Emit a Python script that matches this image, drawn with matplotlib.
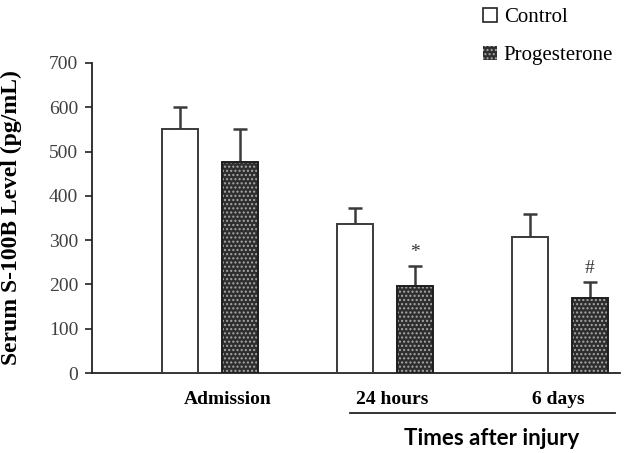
import numpy as np
import matplotlib
matplotlib.use("Agg")
import matplotlib.pyplot as plt
from matplotlib.patches import Patch
from matplotlib.font_manager import FontProperties
from matplotlib.transforms import blended_transform_factory

# ==================== data ====================
GROUPS = ["Admission", "24 hours", "6 days"]
CONTROL = [552, 336, 308]
CONTROL_ERR = [48, 36, 51]
PROG = [477, 196, 169]
PROG_ERR = [74, 46, 37]
MARKS = ["", "*", "#"]          # significance marks above progesterone bars
Y_TICKS = [0, 100, 200, 300, 400, 500, 600, 700]

SERIF = "Liberation Serif"
EDGE = "#3a3a3a"

# ==================== figure ====================
fig = plt.figure(figsize=(6.27, 4.53), dpi=100)
ax = fig.add_axes([92/627, 80/453, 528/627, 310/453])

x = np.arange(len(GROUPS))
w = 0.206
off = 0.17

# control: white bars
ax.bar(x - off, CONTROL, w, color="white", edgecolor=EDGE, linewidth=1.4, zorder=3)
# progesterone: dark dotted bars (hatch first, outline on top)
plt.rcParams["hatch.linewidth"] = 1.0
ax.bar(x + off, PROG, w, color="#2e2e2e", edgecolor="#a8a8a8", hatch="....",
       linewidth=0, zorder=3)
ax.bar(x + off, PROG, w, color="none", edgecolor="#1e1e1e", linewidth=1.4, zorder=4)

# upper error bars only
ax.errorbar(x - off, CONTROL, yerr=[np.zeros(3), CONTROL_ERR], fmt="none",
            ecolor=EDGE, elinewidth=1.8, capsize=5, capthick=1.8, zorder=2)
ax.errorbar(x + off, PROG, yerr=[np.zeros(3), PROG_ERR], fmt="none",
            ecolor=EDGE, elinewidth=1.8, capsize=5, capthick=1.8, zorder=2)

for xi, v, e, m in zip(x + off, PROG, PROG_ERR, MARKS):
    if m:
        ax.text(xi, v + e + 10, m, ha="center", va="bottom", fontsize=14,
                family=SERIF, color="#333333")

# axes styling
ax.set_xlim(-0.674, 2.343)
ax.set_ylim(0, 700)
ax.set_yticks(Y_TICKS)
ax.set_yticklabels([str(t) for t in Y_TICKS], family=SERIF, fontsize=14, color="#404040")
ax.tick_params(axis="y", direction="out", length=5, width=1.2, color="#222222", pad=5)
ax.set_xticks([])
for s in ["top", "right"]:
    ax.spines[s].set_visible(False)
ax.spines["left"].set_linewidth(1.3)
ax.spines["bottom"].set_linewidth(1.3)
ax.spines["left"].set_color("#222222")
ax.spines["bottom"].set_color("#222222")

ax.set_ylabel("Serum S-100B Level (pg/mL)", family=SERIF, fontweight="bold", fontsize=17)
ax.yaxis.set_label_coords(-0.133, 0.5)

# category labels under the axis
trans = blended_transform_factory(ax.transData, ax.transAxes)
label_shift = [0.1, 0.04, -0.01]
for xi, g, d in zip(x, GROUPS, label_shift):
    ax.text(xi + d, -0.085, g, transform=trans, ha="center", va="center",
            family=SERIF, fontweight="bold", fontsize=14)

ax.plot([0.8, 2.314], [-0.129, -0.129], transform=trans, color="#222222",
        linewidth=1.3, clip_on=False)
ax.text(1.611, -0.21, "Times after injury", transform=trans, ha="center", va="center",
        family="Lato", fontweight="bold", fontsize=16)

# legend
handles = [Patch(facecolor="white", edgecolor="#222222", linewidth=1.2),
           Patch(facecolor="#2e2e2e", edgecolor="#a8a8a8", hatch="....", linewidth=0)]
leg_font = FontProperties(family=SERIF, size=15)
leg = fig.legend(handles, ["Control", "Progesterone"], loc="upper left",
                 bbox_to_anchor=(483/627, 1 - 8/453), frameon=False,
                 prop=leg_font, handlelength=0.65,
                 handleheight=0.65, handletextpad=0.35, labelspacing=0.9,
                 borderaxespad=0.0, borderpad=0.0)
for t in leg.get_texts():
    t.set_fontfamily(SERIF)

fig.savefig("out.png", dpi=100)
